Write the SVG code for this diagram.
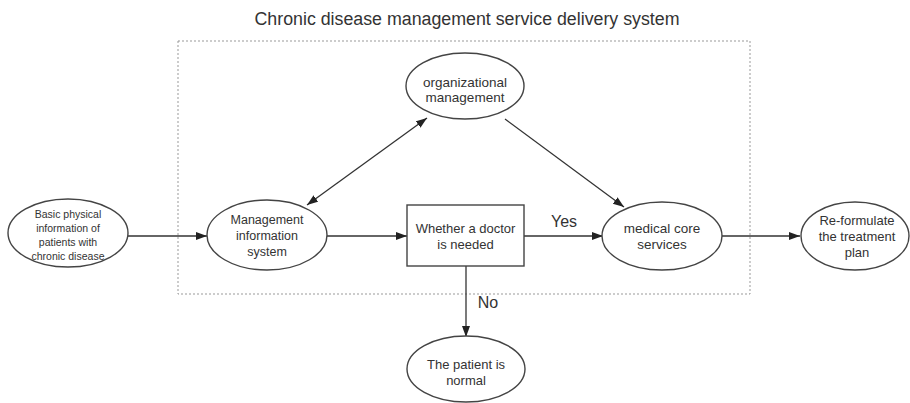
<svg xmlns="http://www.w3.org/2000/svg" width="910" height="403" viewBox="0 0 910 403">
<defs>
<marker id="ah" markerUnits="userSpaceOnUse" markerWidth="12" markerHeight="10" refX="11" refY="4" orient="auto-start-reverse">
<path d="M0,0 L11,4 L0,8 z" fill="#222"/>
</marker>
<style>
.n{fill:#fff;stroke:#444;stroke-width:1.4}
.t{font-family:"Liberation Sans",Arial,sans-serif;fill:#333;text-anchor:middle}
.c{stroke:#333;stroke-width:1.3;fill:none;marker-end:url(#ah)}
</style>
</defs>
<rect width="910" height="403" fill="#fff"/>
<text class="t" x="467" y="25" font-size="18" textLength="425" lengthAdjust="spacingAndGlyphs">Chronic disease management service delivery system</text>
<rect x="178" y="41" width="572" height="253" fill="none" stroke="#999" stroke-width="1" stroke-dasharray="2,2"/>
<g id="connectors">
<line class="c" x1="128" y1="236" x2="207" y2="236"/>
<line class="c" x1="327" y1="236" x2="407" y2="236"/>
<line class="c" x1="524" y1="236" x2="603" y2="236"/>
<line class="c" x1="722" y1="236" x2="800" y2="236"/>
<line class="c" x1="505" y1="119" x2="624" y2="207"/>
<line class="c" x1="307" y1="205" x2="427" y2="118" style="marker-start:url(#ah)"/>
<line class="c" x1="466" y1="266" x2="466" y2="337"/>
<text class="t" x="564" y="227" font-size="16">Yes</text>
<text class="t" x="488" y="308" font-size="16">No</text>
</g>
<g id="basic">
<ellipse class="n" cx="68" cy="233" rx="60" ry="34"/>
<text class="t" font-size="10.5"><tspan x="68" y="218">Basic physical</tspan><tspan x="68" y="232">information of</tspan><tspan x="68" y="246">patients with</tspan><tspan x="68" y="260">chronic disease</tspan></text>
</g>
<g id="mis">
<ellipse class="n" cx="267" cy="235" rx="60" ry="35"/>
<text class="t" font-size="12.5"><tspan x="267" y="224">Management</tspan><tspan x="267" y="240">information</tspan><tspan x="267" y="256">system</tspan></text>
</g>
<g id="decision">
<rect class="n" x="407" y="205" width="117" height="61"/>
<text class="t" font-size="13"><tspan x="465.5" y="233">Whether a doctor</tspan><tspan x="465.5" y="249">is needed</tspan></text>
</g>
<g id="org">
<ellipse class="n" cx="465" cy="86" rx="59" ry="33"/>
<text class="t" font-size="13.5"><tspan x="465" y="87">organizational</tspan><tspan x="465" y="102">management</tspan></text>
</g>
<g id="medical">
<ellipse class="n" cx="662" cy="236" rx="60" ry="34"/>
<text class="t" font-size="13.5"><tspan x="662" y="233">medical core</tspan><tspan x="662" y="249">services</tspan></text>
</g>
<g id="reform">
<ellipse class="n" cx="855" cy="236" rx="54" ry="34"/>
<text class="t" font-size="13"><tspan x="857" y="225">Re-formulate</tspan><tspan x="857" y="241">the treatment</tspan><tspan x="857" y="257">plan</tspan></text>
</g>
<g id="normal">
<ellipse class="n" cx="466" cy="369" rx="59" ry="33"/>
<text class="t" font-size="13"><tspan x="466" y="369">The patient is</tspan><tspan x="466" y="385">normal</tspan></text>
</g>
</svg>
